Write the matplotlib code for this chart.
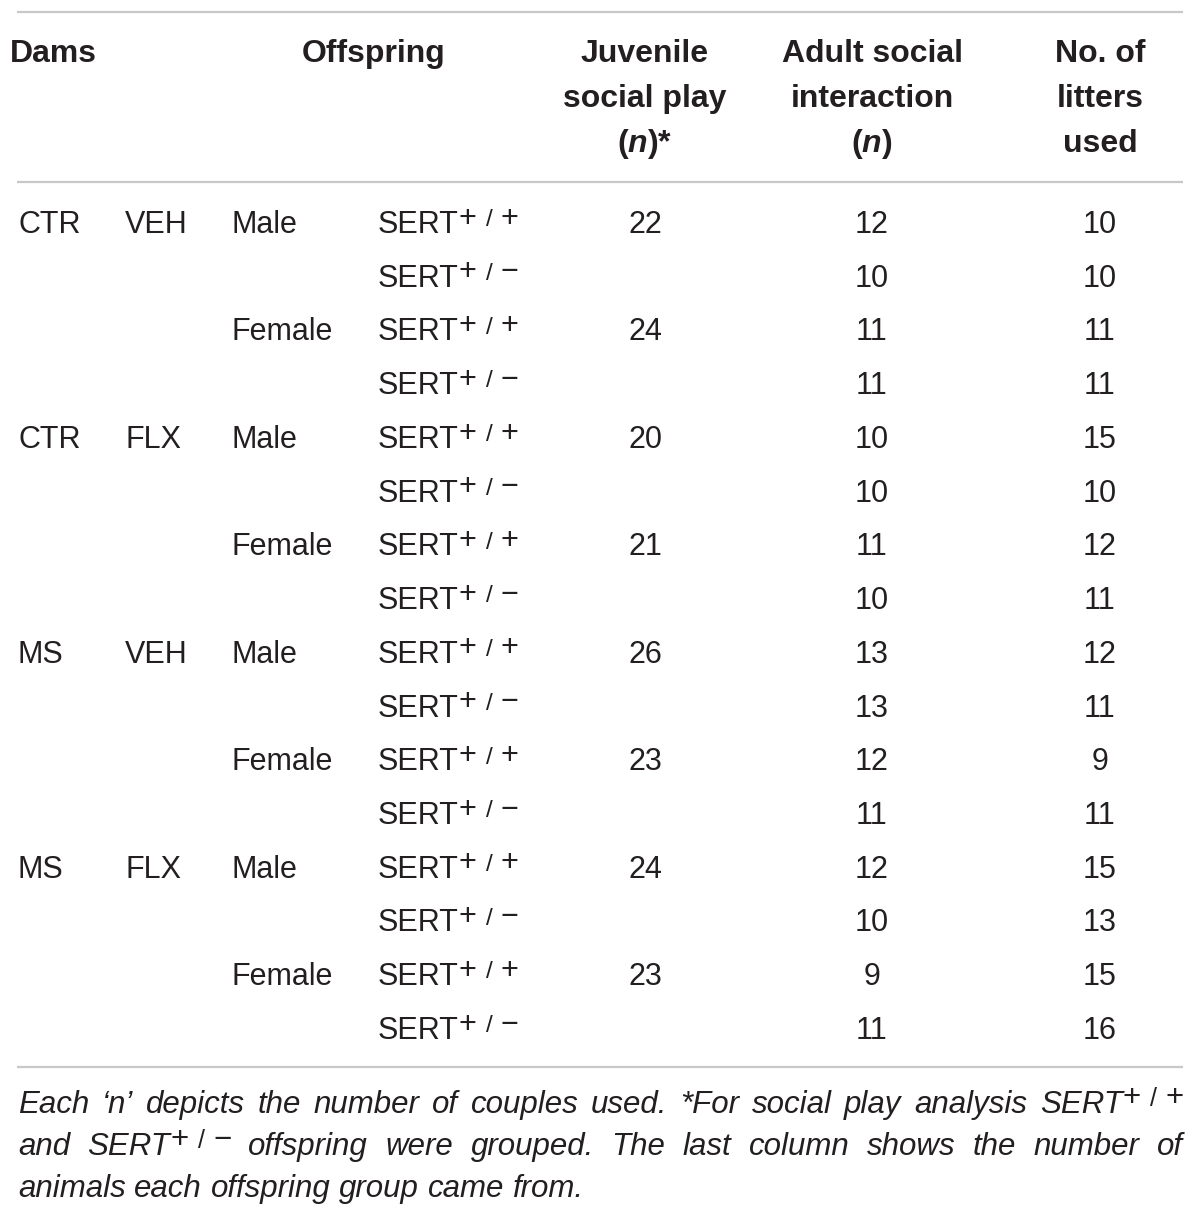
import matplotlib
matplotlib.use("Agg")
import matplotlib.pyplot as plt

plt.rcParams["font.family"] = "Liberation Sans"
plt.rcParams["mathtext.fontset"] = "custom"
plt.rcParams["mathtext.rm"] = "Liberation Sans"
plt.rcParams["mathtext.it"] = "Liberation Sans:italic"
plt.rcParams["mathtext.bf"] = "Liberation Sans:bold"
plt.rcParams["mathtext.bfit"] = "Liberation Sans:italic:bold"

# table data
dams = ["CTR", "CTR", "MS", "MS"]
treatments = ["VEH", "FLX", "VEH", "FLX"]
sexes = ["Male", "Female"]
genotypes = ["+", "\u2212"]          # SERT+/+ , SERT+/-
juvenile_n = [22, 24, 20, 21, 26, 23, 24, 23]
adult_n = [12, 10, 11, 11, 10, 10, 11, 10, 13, 13, 12, 11, 12, 10, 9, 11]
litters = [10, 10, 11, 11, 15, 10, 12, 11, 12, 11, 9, 11, 15, 13, 15, 16]

headers = ["Juvenile\nsocial play\n($\\mathbfit{n}$)*",
           "Adult social\ninteraction\n($\\mathbfit{n}$)",
           "No. of\nlitters\nused"]

# footnote words; "SERT+" / "SERT-" are drawn with superscripts
foot_lines = [
    "Each \u2018n\u2019 depicts the number of couples used. *For social play analysis SERT+",
    "and SERT\u2212 offspring were grouped. The last column shows the number of",
    "animals each offspring group came from.",
]

W, H = 1200, 1219
fig = plt.figure(figsize=(W / 100, H / 100), dpi=100)
ax = fig.add_axes([0, 0, 1, 1])
ax.set_xlim(0, W)
ax.set_ylim(H, 0)
ax.axis("off")
renderer = fig.canvas.get_renderer()

ink = "#231f20"
rule = "#c8c8c8"


def width(t):
    return t.get_window_extent(renderer).width


def sert(x, base, sign, size, style="normal"):
    """draw SERT with +/sign superscript, baseline at base"""
    em = size * 100 / 72
    objs = [ax.text(x, base, "SERT", fontsize=size, style=style, color=ink, va="baseline")]
    x0 = x + width(objs[0])
    sb = base - 0.21 * em
    objs.append(ax.text(x0 + 0.0 * em, sb, "+", fontsize=size, color=ink, va="baseline"))
    objs.append(ax.text(x0 + 0.88 * em, base - 0.22 * em, "/", fontsize=size * 0.8,
                        color=ink, va="baseline"))
    objs.append(ax.text(x0 + 1.37 * em, sb, sign, fontsize=size, color=ink, va="baseline"))
    return objs, x0 + 1.37 * em + 0.56 * em - x


# rules
for yy in [12, 182, 1067]:
    ax.plot([17, 1183], [yy, yy], color=rule, lw=1.6, solid_capstyle="butt")

# header
hsize = 23
ax.text(10, 54, "Dams", fontsize=hsize, fontweight="bold", color=ink, va="center", ha="left")
ax.text(374, 54, "Offspring", fontsize=hsize, fontweight="bold", color=ink, va="center", ha="center")
col_x = [645, 872, 1100]
for cx, h in zip(col_x, headers):
    for i, line in enumerate(h.split("\n")):
        ax.text(cx, 54 + 45 * i, line, fontsize=hsize, fontweight="bold", color=ink,
                va="center", ha="center")

# body
bsize = 22
row_y0, row_dy = 222, 53.73
for r in range(16):
    base = row_y0 + r * row_dy + 11
    g = r // 4
    s = (r // 2) % 2
    k = r % 2
    if r % 4 == 0:
        ax.text(18, base, dams[g], fontsize=bsize, color=ink, va="baseline")
        ax.text(125, base, treatments[g], fontsize=bsize, color=ink, va="baseline")
    if k == 0:
        ax.text(232, base, sexes[s], fontsize=bsize, color=ink, va="baseline")
        ax.text(col_x[0], base, str(juvenile_n[r // 2]), fontsize=bsize, color=ink,
                va="baseline", ha="center")
    sert(378, base, genotypes[k], bsize)
    ax.text(col_x[1], base, str(adult_n[r]), fontsize=bsize, color=ink, va="baseline", ha="center")
    ax.text(col_x[2], base, str(litters[r]), fontsize=bsize, color=ink, va="baseline", ha="center")

# footnote, justified
fsize = 22.5
left, right = 18, 1183
foot_base = [1113, 1155, 1197]
probe_a = ax.text(0, 0, "a", fontsize=fsize, style="italic")
probe_b = ax.text(0, 0, "a a", fontsize=fsize, style="italic")
space = width(probe_b) - 2 * width(probe_a)
probe_a.remove()
probe_b.remove()
for li, (line, yb) in enumerate(zip(foot_lines, foot_base)):
    words = line.split(" ")
    groups = []
    for w in words:
        if w.startswith("SERT") and len(w) == 5:
            objs, wd = sert(0, yb, w[4], fsize, style="italic")
            groups.append((objs, wd))
        else:
            t = ax.text(0, yb, w, fontsize=fsize, style="italic", color=ink, va="baseline")
            groups.append(([t], width(t)))
    total = sum(wd for _, wd in groups)
    gap = (right - left - total) / (len(groups) - 1) if li < 2 else space
    x = left
    for objs, wd in groups:
        dx = x - objs[0].get_position()[0]
        for o in objs:
            o.set_x(o.get_position()[0] + dx)
        x += wd + gap

fig.savefig("out.png", dpi=100)
